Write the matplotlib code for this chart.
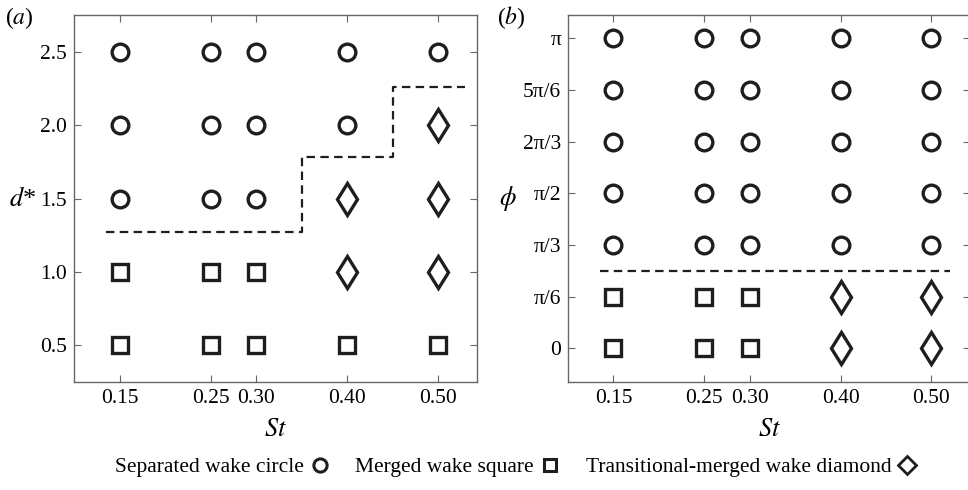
import numpy as np
import matplotlib
matplotlib.use('Agg')
import matplotlib.pyplot as plt
from matplotlib.lines import Line2D

plt.rcParams['font.family'] = ['Liberation Serif', 'DejaVu Serif']
plt.rcParams['mathtext.fontset'] = 'stix'

# Strouhal numbers used in both panels
st_values = [0.15, 0.25, 0.30, 0.40, 0.50]
st_labels = ['0.15', '0.25', '0.30', '0.40', '0.50']

# panel (a): d* against St, regime code per point (c circle, s square, d diamond)
d_values = [0.5, 1.0, 1.5, 2.0, 2.5]
d_labels = ['0.5', '1.0', '1.5', '2.0', '2.5']
regime_a = [
    ['s', 's', 's', 's', 's'],   # d* = 0.5
    ['s', 's', 's', 'd', 'd'],   # d* = 1.0
    ['c', 'c', 'c', 'd', 'd'],   # d* = 1.5
    ['c', 'c', 'c', 'c', 'd'],   # d* = 2.0
    ['c', 'c', 'c', 'c', 'c'],   # d* = 2.5
]
boundary_a_st = [0.135, 0.35, 0.35, 0.45, 0.45, 0.53]
boundary_a_d = [1.27, 1.27, 1.78, 1.78, 2.26, 2.26]

# panel (b): phi (in units of pi/6) against St
phi_values = [0, 1, 2, 3, 4, 5, 6]
phi_labels = ['0', 'π/6', 'π/3', 'π/2', '2π/3', '5π/6', 'π']
regime_b = [
    ['s', 's', 's', 'd', 'd'],   # 0
    ['s', 's', 's', 'd', 'd'],   # pi/6
    ['c', 'c', 'c', 'c', 'c'],
    ['c', 'c', 'c', 'c', 'c'],
    ['c', 'c', 'c', 'c', 'c'],
    ['c', 'c', 'c', 'c', 'c'],
    ['c', 'c', 'c', 'c', 'c'],   # pi
]
boundary_b_st = [0.135, 0.52]
boundary_b_phi = [1.5, 1.5]

ink = '#1e1e1e'
spine_col = '#666666'
styles = {
    'c': dict(marker='o', markersize=12),
    's': dict(marker='s', markersize=12),
    'd': dict(marker='d', markersize=16.5),
}


def draw_regimes(ax, ys, regime):
    for y, row in zip(ys, regime):
        for x, code in zip(st_values, row):
            ax.plot(x, y, linestyle='none', markerfacecolor='none',
                    markeredgecolor=ink, markeredgewidth=2.4, **styles[code])


def style_axes(ax):
    for s in ax.spines.values():
        s.set_color(spine_col)
        s.set_linewidth(1.0)
    ax.tick_params(direction='in', top=True, right=True, length=5,
                   width=0.8, color=spine_col, labelsize=15.5, pad=5)
    ax.set_xticks(st_values)
    ax.set_xticklabels(st_labels)


fig = plt.figure(figsize=(9.68, 4.9), dpi=100)
ax_a = fig.add_axes([74 / 968, 1 - 382 / 490, 402.7 / 968, 367 / 490])
ax_b = fig.add_axes([568 / 968, 1 - 382 / 490, 402 / 968, 367 / 490])

# (a)
draw_regimes(ax_a, d_values, regime_a)
ax_a.plot(boundary_a_st, boundary_a_d, color=ink, lw=1.6,
          linestyle=(0, (3.8, 2.4)))
style_axes(ax_a)
ax_a.set_xlim(0.1, 0.5425)
ax_a.set_ylim(0.25, 2.75)
ax_a.set_yticks(d_values)
ax_a.set_yticklabels(d_labels)
ax_a.set_xlabel('$St$', fontsize=19, labelpad=8)
ax_a.set_ylabel('$d$*', fontsize=19, rotation=0, va='center', ha='center')
ax_a.yaxis.set_label_coords(-0.127, 0.5)
fig.text(5 / 968, 1 - 18 / 490, '($a$)', fontsize=17, va='center')

# (b)
draw_regimes(ax_b, phi_values, regime_b)
ax_b.plot(boundary_b_st, boundary_b_phi, color=ink, lw=1.6,
          linestyle=(0, (3.8, 2.4)))
style_axes(ax_b)
ax_b.set_xlim(0.1, 0.5425)
ax_b.set_ylim(-0.65, 6.45)
ax_b.set_yticks(phi_values)
ax_b.set_yticklabels(phi_labels)
ax_b.set_xlabel('$St$', fontsize=19, labelpad=8)
ax_b.set_ylabel(r'$\phi$', fontsize=19, rotation=0, va='center', ha='center')
ax_b.yaxis.set_label_coords(-0.15, 0.5)
fig.text(497 / 968, 1 - 18 / 490, '($b$)', fontsize=17, va='center')

# bottom legend, marker after text
handles = [
    Line2D([], [], linestyle='none', marker='o', markersize=9.5,
           markerfacecolor='none', markeredgecolor=ink, markeredgewidth=2.2),
    Line2D([], [], linestyle='none', marker='s', markersize=9,
           markerfacecolor='none', markeredgecolor=ink, markeredgewidth=2.2),
    Line2D([], [], linestyle='none', marker='D', markersize=9,
           markerfacecolor='none', markeredgecolor=ink, markeredgewidth=2.0),
]
labels = ['Separated wake circle', 'Merged wake square',
          'Transitional-merged wake diamond']
fig.legend(handles, labels, loc='center', bbox_to_anchor=(516 / 968, 1 - 467 / 490),
           ncol=3, frameon=False, markerfirst=False, fontsize=15.5,
           handlelength=0.9, handletextpad=0.3, columnspacing=1.2)

fig.savefig('out.png', dpi=100)
